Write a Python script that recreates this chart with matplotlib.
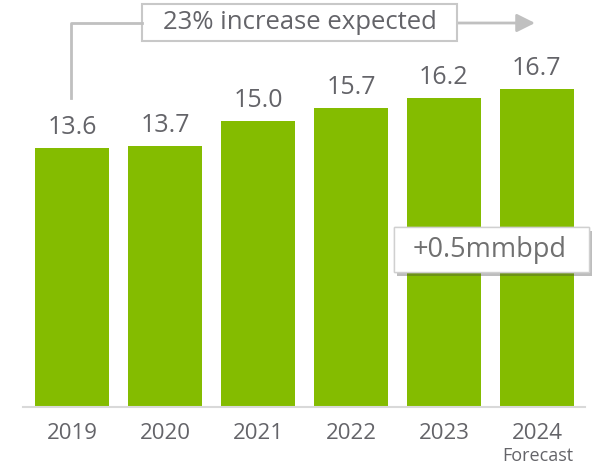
import matplotlib
matplotlib.use("Agg")
import matplotlib.pyplot as plt
from matplotlib.lines import Line2D
from matplotlib.patches import Rectangle
import matplotlib.patheffects as pe

years = ["2019", "2020", "2021", "2022", "2023", "2024"]
values = [13.6, 13.7, 15.0, 15.7, 16.2, 16.7]
value_labels = ["13.6", "13.7", "15.0", "15.7", "16.2", "16.7"]
sub_label = "Forecast"
growth_text = "23% increase expected"
delta_text = "+0.5mmbpd"

GREEN = "#84BC00"
GRAY_TXT = "#646469"

plt.rcParams['font.family'] = ['Open Sans', 'DejaVu Sans']

W, H = 600, 466
fig = plt.figure(figsize=(W / 100, H / 100), dpi=100)

def fx(px):
    return px / W

def fy(py):
    return 1 - py / H

def frect(x0, y0, x1, y1, **kw):
    return Rectangle((fx(x0), fy(y1)), fx(x1) - fx(x0), fy(y0) - fy(y1),
                     transform=fig.transFigure, **kw)

base_px = 407
top_px = 26
ax = fig.add_axes([fx(23), fy(base_px), fx(585) - fx(23), fy(top_px) - fy(base_px)])
x = list(range(len(years)))
ax.bar(x, values, width=0.8, color=GREEN)
ax.set_xlim(-0.527, 5.517)
ax.set_ylim(0, 20)
for s in ["top", "right", "left"]:
    ax.spines[s].set_visible(False)
ax.spines["bottom"].set_color("#d9d9d9")
ax.spines["bottom"].set_linewidth(1.5)
ax.set_yticks([])
ax.set_xticks(x)
ax.set_xticklabels(years, fontsize=16, color=GRAY_TXT)
ax.tick_params(axis="x", length=0, pad=11.5)

for xi, v, lab in zip(x, values, value_labels):
    ax.annotate(lab, (xi, v), xytext=(0, 15), textcoords="offset points",
                ha="center", va="center", fontsize=18, color=GRAY_TXT)

fig.text(fx(538), fy(456), sub_label, ha="center", va="center",
         fontsize=13, color=GRAY_TXT)

# bracket line and arrow
lc = "#c0c0c0"
fig.add_artist(Line2D([fx(71), fx(71), fx(142)], [fy(98), fy(23), fy(23)],
                      color=lc, lw=2, transform=fig.transFigure))
fig.add_artist(frect(142, 4, 457, 41, fc="white", ec="#c8c8c8", lw=1.5))
fig.text(fx(299.5), fy(22.5), growth_text, ha="center", va="center",
         fontsize=18.5, color=GRAY_TXT)
ax.annotate("", xy=(fx(535), fy(23)), xytext=(fx(457), fy(23)),
            xycoords="figure fraction", textcoords="figure fraction",
            arrowprops=dict(arrowstyle="-|>,head_length=1.1,head_width=0.55",
                            color=lc, lw=2, shrinkA=0, shrinkB=0))

# delta callout with shadow
box = frect(394, 227, 589, 272, fc="white", ec="#d0d0d0", lw=1)
box.set_path_effects([
    pe.withSimplePatchShadow(offset=(2, -3), shadow_rgbFace="#444444", alpha=0.35),
    pe.Normal()])
fig.add_artist(box)
fig.text(fx(490), fy(250), delta_text, ha="center", va="center",
         fontsize=19.5, color="#707070")

fig.savefig("out.png", dpi=100)
